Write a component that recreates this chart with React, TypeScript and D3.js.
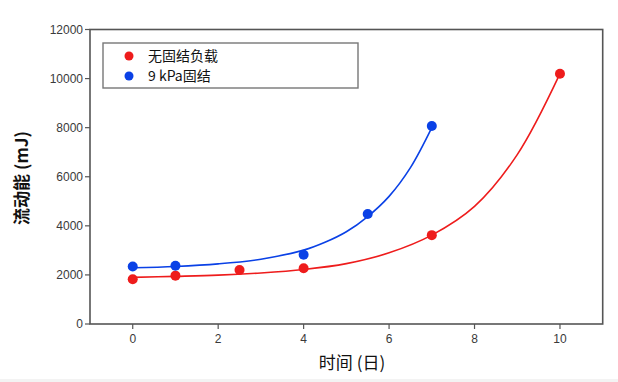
import React from "react";
import * as d3 from "d3";

const redX = [0, 1, 2.5, 4, 7, 10];
const redY = [1820, 1970, 2200, 2270, 3620, 10200];
const blueX = [0, 1, 4, 5.5, 7];
const blueY = [2340, 2370, 2820, 4480, 8070];

const redFitX = [0, 1, 2, 3, 4, 5, 6, 7, 8, 9, 10];
const redFitY = [1900, 1940, 1990, 2080, 2220, 2460, 2900, 3620, 4790, 6900, 10200];
const blueFitX = [0, 1, 2, 3, 4, 4.5, 5, 5.5, 6, 6.5, 7];
const blueFitY = [2290, 2345, 2450, 2640, 3010, 3330, 3760, 4380, 5200, 6370, 8000];

const xTicks = [0, 2, 4, 6, 8, 10];
const yTicks = [0, 2000, 4000, 6000, 8000, 10000, 12000];
const legendLabels = ["无固结负载", "9 kPa固结"];
const xLabel = "时间 (日)";
const yLabel = "流动能 (mJ)";

const W = 618, H = 382;
const L = 90, R = 602.7, T = 29.5, B = 324;
const RED = "#ee1c1c";
const BLUE = "#0a41e6";
const AX = "#555";
const CJK = "'Noto Sans CJK SC', 'Noto Sans', sans-serif";
const LAT = "'Liberation Sans', Arial, sans-serif";

export default function App() {
  const x = d3.scaleLinear().domain([-1, 11]).range([L, R]);
  const y = d3.scaleLinear().domain([0, 12000]).range([B, T]);
  const line = d3
    .line<[number, number]>()
    .x((d) => x(d[0]))
    .y((d) => y(d[1]))
    .curve(d3.curveCatmullRom.alpha(0.5));
  const redPath = line(redFitX.map((v, i) => [v, redFitY[i]]) as [number, number][]) || "";
  const bluePath = line(blueFitX.map((v, i) => [v, blueFitY[i]]) as [number, number][]) || "";

  return (
    <svg
      width={W}
      height={H}
      style={{ position: "absolute", left: 0, top: 0, background: "#fff" }}
    >
      <rect x={0} y={379} width={W} height={3} fill="#f3f3f3" />
      <rect x={L} y={T} width={R - L} height={B - T} fill="none" stroke={AX} strokeWidth={1.6} />
      {yTicks.map((t) => (
        <g key={"y" + t}>
          <line x1={L - 5} x2={L} y1={y(t)} y2={y(t)} stroke={AX} strokeWidth={1.2} />
          <text
            x={L - 7}
            y={y(t)}
            dy="0.35em"
            textAnchor="end"
            fontFamily={LAT}
            fontSize={12}
            fill="#3a3a3a"
          >
            {t}
          </text>
        </g>
      ))}
      {xTicks.map((t) => (
        <g key={"x" + t}>
          <line x1={x(t)} x2={x(t)} y1={B} y2={B + 5} stroke={AX} strokeWidth={1.2} />
          <text
            x={x(t)}
            y={B + 19}
            textAnchor="middle"
            fontFamily={LAT}
            fontSize={12}
            fill="#3a3a3a"
          >
            {t}
          </text>
        </g>
      ))}
      <text
        x={352}
        y={369}
        textAnchor="middle"
        fontFamily={CJK}
        fontSize={17}
        fill="#111"
      >
        {xLabel}
      </text>
      <text
        transform={`translate(28,178) rotate(-90)`}
        textAnchor="middle"
        fontFamily={CJK}
        fontSize={17}
        fontWeight={700}
        fill="#111"
      >
        {yLabel}
      </text>
      <path d={redPath} fill="none" stroke={RED} strokeWidth={1.6} />
      <path d={bluePath} fill="none" stroke={BLUE} strokeWidth={1.6} />
      {redX.map((v, i) => (
        <circle key={"r" + i} cx={x(v)} cy={y(redY[i])} r={5} fill={RED} />
      ))}
      {blueX.map((v, i) => (
        <circle key={"b" + i} cx={x(v)} cy={y(blueY[i])} r={5} fill={BLUE} />
      ))}
      <rect x={103} y={43} width={255} height={45} fill="#fff" stroke="#777" strokeWidth={1.4} />
      {legendLabels.map((lab, i) => (
        <g key={"l" + i}>
          <circle cx={129} cy={56 + i * 20} r={4.5} fill={i === 0 ? RED : BLUE} />
          <text
            x={148}
            y={56 + i * 20}
            dy="0.36em"
            fontFamily={CJK}
            fontSize={14}
            fill="#111"
          >
            {lab}
          </text>
        </g>
      ))}
    </svg>
  );
}
